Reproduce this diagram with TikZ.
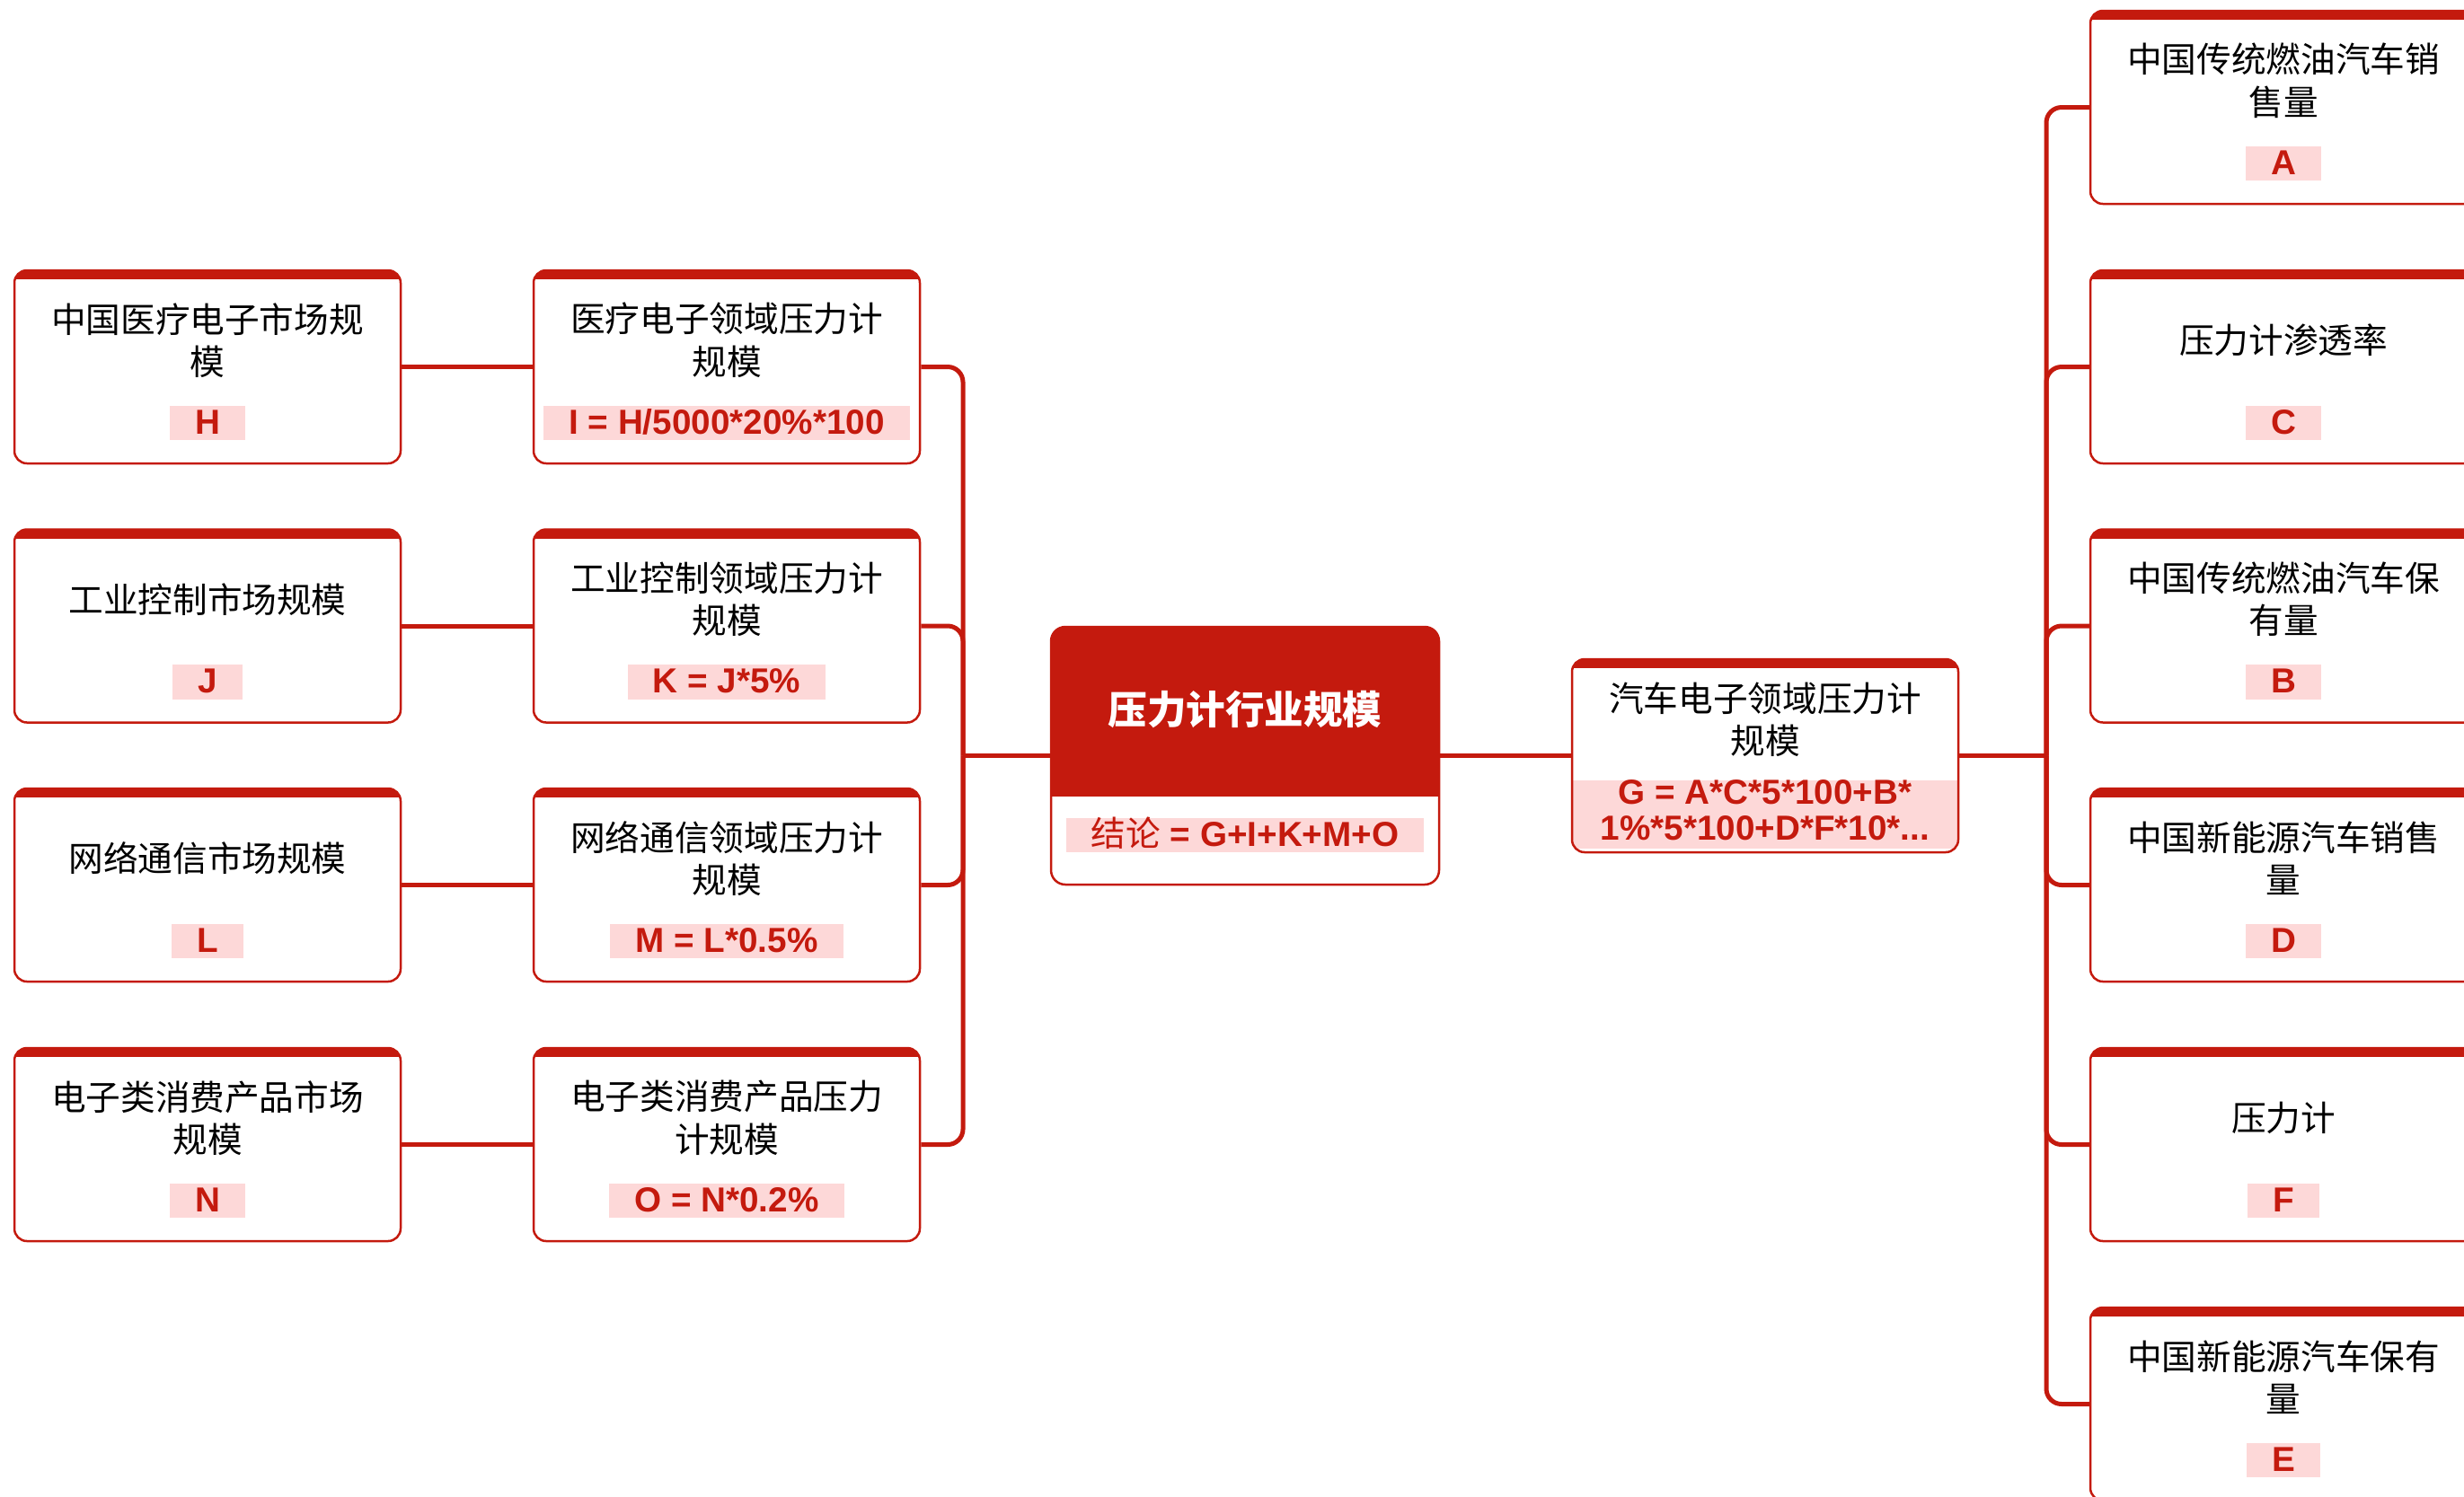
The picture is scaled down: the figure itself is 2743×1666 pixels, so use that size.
\documentclass[tikz,border=0pt]{standalone}
\usepackage{fontspec}
\setmainfont{Liberation Sans}
\newfontfamily\cjk{Noto Sans CJK SC}
\usetikzlibrary{positioning,calc}

\definecolor{mainred}{RGB}{196,26,14}
\definecolor{softpink}{RGB}{253,216,216}

\tikzset{
  leaf/.style={draw=mainred, line width=0.25mm, rounded corners=1.4mm,
    minimum width=43mm, minimum height=21.5mm, fill=white,
    path picture={\fill[mainred, sharp corners] (path picture bounding box.north west)
      rectangle ([yshift=-1mm]path picture bounding box.north east);}},
  sumbox/.style={leaf, path picture={
      \fill[mainred, sharp corners] (path picture bounding box.north west)
        rectangle ([yshift=-1mm]path picture bounding box.north east);
      \fill[softpink, sharp corners] ([yshift=0.4mm]path picture bounding box.south west)
        rectangle ([yshift=8mm]path picture bounding box.south east);}},
  rootbox/.style={draw=mainred, line width=0.25mm, rounded corners=1.6mm,
    minimum width=43.2mm, minimum height=28.7mm, fill=white,
    path picture={\fill[mainred, sharp corners] (path picture bounding box.north west)
      rectangle ([yshift=-18.9mm]path picture bounding box.north east);}},
  title/.style={font=\cjk\fontsize{11}{13.4}\selectfont, align=center, inner sep=0pt},
  value/.style={fill=softpink, text=mainred, font=\bfseries\fontsize{11}{11}\selectfont,
    inner xsep=2.8mm, inner ysep=0.35mm, text height=2.8mm, text depth=0.35mm},
  link/.style={draw=mainred, line width=0.5mm, rounded corners=1.7mm},
}

\begin{document}
\begin{tikzpicture}[x=0.1mm,y=-0.1mm]
  \useasboundingbox (0,0) rectangle (2743,1666);
  \clip (0,0) rectangle (2743,1666);

  % left column: markets
  \node[leaf] (h) at (231,408.5) {};
  \node[title] (h-title) at ([yshift=-7.9mm]h.north) {中国医疗电子市场规\\模};
  \node[value] (h-val) at ([yshift=-17.1mm]h.north) {H};

  \node[leaf] (j) at (231,697) {};
  \node[title] (j-title) at ([yshift=-7.9mm]j.north) {工业控制市场规模};
  \node[value] (j-val) at ([yshift=-17.1mm]j.north) {J};

  \node[leaf] (l) at (231,985.5) {};
  \node[title] (l-title) at ([yshift=-7.9mm]l.north) {网络通信市场规模};
  \node[value] (l-val) at ([yshift=-17.1mm]l.north) {L};

  \node[leaf] (n) at (231,1274.5) {};
  \node[title] (n-title) at ([yshift=-7.9mm]n.north) {电子类消费产品市场\\规模};
  \node[value] (n-val) at ([yshift=-17.1mm]n.north) {N};

  % second column: pressure gauge per field
  \node[leaf] (i) at (809,408.5) {};
  \node[title] (i-title) at ([yshift=-7.9mm]i.north) {医疗电子领域压力计\\规模};
  \node[value] (i-val) at ([yshift=-17.1mm]i.north) {I = H/5000*20\%*100};

  \node[leaf] (k) at (809,697) {};
  \node[title] (k-title) at ([yshift=-7.9mm]k.north) {工业控制领域压力计\\规模};
  \node[value] (k-val) at ([yshift=-17.1mm]k.north) {K = J*5\%};

  \node[leaf] (m) at (809,985.5) {};
  \node[title] (m-title) at ([yshift=-7.9mm]m.north) {网络通信领域压力计\\规模};
  \node[value] (m-val) at ([yshift=-17.1mm]m.north) {M = L*0.5\%};

  \node[leaf] (o) at (809,1274.5) {};
  \node[title] (o-title) at ([yshift=-7.9mm]o.north) {电子类消费产品压力\\计规模};
  \node[value] (o-val) at ([yshift=-17.1mm]o.north) {O = N*0.2\%};

  % root
  \node[rootbox] (root) at (1386,841.5) {};
  \node[title, text=white, font=\cjk\bfseries\fontsize{12.4}{14}\selectfont] (root-title)
    at ([yshift=-9.3mm]root.north) {压力计行业规模};
  \node[value, minimum width=39.3mm] (root-val) at ([yshift=-23.3mm]root.north)
    {{\cjk\mdseries 结论} = G+I+K+M+O};

  % car electronics
  \node[sumbox] (g) at (1965,841.5) {};
  \node[title] (g-title) at ([yshift=-6.85mm]g.north) {汽车电子领域压力计\\规模};
  \node[value, fill=none, align=center, font=\bfseries\fontsize{11}{11.2}\selectfont,
    text height=, text depth=] (g-val) at ([yshift=-16.95mm]g.north)
    {G = A*C*5*100+B*\\1\%*5*100+D*F*10*...};

  % right column: car data
  \node[leaf] (a) at (2542,119.5) {};
  \node[title] (a-title) at ([yshift=-7.9mm]a.north) {中国传统燃油汽车销\\售量};
  \node[value] (a-val) at ([yshift=-17.1mm]a.north) {A};

  \node[leaf] (c) at (2542,408.5) {};
  \node[title] (c-title) at ([yshift=-7.9mm]c.north) {压力计渗透率};
  \node[value] (c-val) at ([yshift=-17.1mm]c.north) {C};

  \node[leaf] (b) at (2542,697) {};
  \node[title] (b-title) at ([yshift=-7.9mm]b.north) {中国传统燃油汽车保\\有量};
  \node[value] (b-val) at ([yshift=-17.1mm]b.north) {B};

  \node[leaf] (d) at (2542,985.5) {};
  \node[title] (d-title) at ([yshift=-7.9mm]d.north) {中国新能源汽车销售\\量};
  \node[value] (d-val) at ([yshift=-17.1mm]d.north) {D};

  \node[leaf] (f) at (2542,1274.5) {};
  \node[title] (f-title) at ([yshift=-7.9mm]f.north) {压力计};
  \node[value] (f-val) at ([yshift=-17.1mm]f.north) {F};

  \node[leaf] (e) at (2542,1563.5) {};
  \node[title] (e-title) at ([yshift=-7.9mm]e.north) {中国新能源汽车保有\\量};
  \node[value] (e-val) at ([yshift=-17.1mm]e.north) {E};

  % connectors
  \draw[link] (h.east) -- (i.west);
  \draw[link] (j.east) -- (k.west);
  \draw[link] (l.east) -- (m.west);
  \draw[link] (n.east) -- (o.west);

  \coordinate (jl) at (1072,841.5);
  \foreach \src in {i,k,m,o}
    \draw[link] (\src.east) -| (jl);
  \draw[link] (jl) -- (root.west);

  \draw[link] (root.east) -- (g.west);
  \coordinate (jr) at (2278,841.5);
  \draw[link] (g.east) -- (jr);
  \foreach \dst in {a,c,b,d,f,e}
    \draw[link] (jr) |- (\dst.west);
\end{tikzpicture}
\end{document}
